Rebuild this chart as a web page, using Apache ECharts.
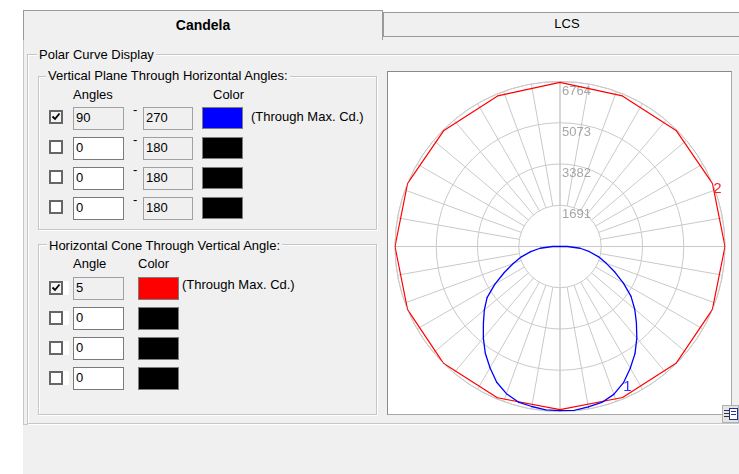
<!DOCTYPE html>
<html>
<head>
<meta charset="utf-8">
<script src="https://cdn.jsdelivr.net/npm/echarts@6/dist/echarts.min.js"></script>
<style>
  html, body { margin:0; padding:0; }
  body { width:739px; height:474px; position:relative; overflow:hidden; background:#ffffff;
         font-family:'Liberation Sans', Arial, sans-serif; font-size:13px; color:#000; }
  .abs { position:absolute; box-sizing:border-box; }
  .grp { border:1px solid #c6c6c6; box-shadow: 1px 1px 0 #ffffff inset, 1px 1px 0 #ffffff; }
  .gl { position:absolute; background:#f0f0f0; padding:0 2px; line-height:14px; white-space:nowrap; }
  .txt { position:absolute; line-height:14px; white-space:nowrap; }
  .cb { position:absolute; width:14px; height:14px; box-sizing:border-box; border:2px solid #666; background:#fff; }
  .cb.on { background:#f4f4f4; }
  .cb svg { position:absolute; left:0; top:0; }
  .tb { position:absolute; box-sizing:border-box; height:23px; border:1px solid #7a7a7a; background:#fff; padding-left:2px; line-height:20px; }
  .tb.dis { background:#f0f0f0; border-color:#a0a0a0; }
  .sw { position:absolute; box-sizing:border-box; height:22px; border:1px solid #7d7d7d; }
</style>
</head>
<body>
<!-- panel background -->
<div class="abs" style="left:23px;top:10px;width:716px;height:464px;background:#f0f0f0;"></div>
<div class="abs" style="left:383px;top:10px;width:356px;height:2px;background:#ffffff;"></div>
<!-- tabs -->
<div class="abs" style="left:23px;top:10px;width:360px;height:30px;border-top:1px solid #9a9a9a;border-left:1px solid #9a9a9a;border-right:1px solid #9a9a9a;"></div>
<div class="txt" style="left:23px;top:18px;width:360px;text-align:center;font-weight:bold;font-size:14px;">Candela</div>
<div class="abs" style="left:383px;top:12px;width:360px;height:25px;border:1px solid #9a9a9a;border-right:none;"></div>
<div class="txt" style="left:383px;top:17px;width:368px;text-align:center;font-size:13px;">LCS</div>
<div class="abs" style="left:23px;top:40px;width:1px;height:385px;background:#c8c8c8;"></div>
<div class="abs" style="left:23px;top:424px;width:716px;height:1px;background:#c8c8c8;"></div>

<!-- Polar Curve Display group -->
<div class="abs grp" style="left:27px;top:54px;width:720px;height:370px;"></div>
<div class="gl" style="left:37px;top:48px;">Polar Curve Display</div>

<!-- Vertical plane group -->
<div class="abs grp" style="left:38px;top:76px;width:339px;height:154px;"></div>
<div class="gl" style="left:46px;top:69px;">Vertical Plane Through Horizontal Angles:</div>
<div class="txt" style="left:73px;top:88px;">Angles</div>
<div class="txt" style="left:213px;top:88px;">Color</div>

<div id="vrows"></div>

<!-- Horizontal cone group -->
<div class="abs grp" style="left:38px;top:244px;width:339px;height:171px;"></div>
<div class="gl" style="left:47px;top:239px;">Horizontal Cone Through Vertical Angle:</div>
<div class="txt" style="left:73px;top:257px;">Angle</div>
<div class="txt" style="left:138px;top:257px;">Color</div>

<div id="hrows"></div>

<!-- chart box -->
<div class="abs" style="left:387px;top:71px;width:345px;height:344px;background:#ffffff;border-top:1px solid #8a8a8a;border-left:1px solid #8a8a8a;border-right:1px solid #a8a8a8;border-bottom:1px solid #a8a8a8;">
  <div id="chart" style="position:absolute;left:0;top:0;width:343px;height:342px;"></div>
</div>

<!-- small print icon -->
<div class="abs" style="left:722px;top:405px;width:17px;height:18px;background:#e4e4e4;border:1px solid #b0b0b0;">
  <div class="abs" style="left:6px;top:2px;width:9px;height:12px;border:1px solid #1c2f9a;background:#ffffff;"></div>
  <div class="abs" style="left:1px;top:4px;width:6px;height:1px;background:#333;"></div>
  <div class="abs" style="left:1px;top:7px;width:6px;height:1px;background:#333;"></div>
  <div class="abs" style="left:1px;top:10px;width:6px;height:1px;background:#333;"></div>
  <div class="abs" style="left:8px;top:5px;width:5px;height:1px;background:#1c2f9a;"></div>
  <div class="abs" style="left:8px;top:8px;width:5px;height:1px;background:#1c2f9a;"></div>
</div>

<script>
// ---------- form data ----------
const vPlaneFrom   = ['90', '0', '0', '0'];
const vPlaneTo     = ['270', '180', '180', '180'];
const vPlaneOn     = [true, false, false, false];
const vPlaneColors = ['#0000ff', '#000000', '#000000', '#000000'];
const hConeAngle   = ['5', '0', '0', '0'];
const hConeOn      = [true, false, false, false];
const hConeColors  = ['#ff0000', '#000000', '#000000', '#000000'];

// ---------- chart data ----------
const ringValues = [1691, 3382, 5073, 6764];          // radius tick labels
const blueAngles = [0, 5, 10, 15, 20, 25, 30, 35, 40, 45, 50, 55, 60, 65, 70, 75, 80, 85, 90]; // vertical angles
const blue90  = [6730, 6740, 6680, 6620, 6450, 6160, 5760, 5360, 4900, 4430, 4000, 3550, 3000, 2480, 2020, 1640, 1230, 830, 300];  // plane 90
const blue270 = [6730, 6720, 6660, 6600, 6420, 6140, 5740, 5340, 4890, 4440, 4050, 3650, 3080, 2520, 2040, 1640, 1220, 820, 300];  // plane 270
const redAngles = [0, 22.5, 45, 67.5, 90, 112.5, 135, 157.5, 180, 202.5, 225, 247.5, 270, 292.5, 315, 337.5]; // horizontal angles
const redValues = [6690, 6700, 6750, 6760, 6764, 6764, 6730, 6680, 6730, 6680, 6730, 6764, 6764, 6764, 6764, 6710];

// ---------- build form ----------
function check(on) {
  return '<div class="cb' + (on ? ' on' : '') + '">' + (on ?
    '<svg width="10" height="10" viewBox="0 0 10 10"><polyline points="1.5,4.5 4,7 8.5,1.5" fill="none" stroke="#000" stroke-width="1.8"/></svg>' : '') + '</div>';
}
let vh = '';
for (let i = 0; i < 4; i++) {
  const y = 107 + i * 30;
  vh += check(vPlaneOn[i]).replace('class="cb', 'style="left:49px;top:' + (y + 3) + 'px;" class="cb');
  vh += '<div class="tb' + (vPlaneOn[i] ? ' dis' : '') + '" style="left:73px;top:' + y + 'px;width:51px;">' + vPlaneFrom[i] + '</div>';
  vh += '<div class="txt" style="left:133px;top:' + (y - 4) + 'px;">-</div>';
  vh += '<div class="tb dis" style="left:143px;top:' + y + 'px;width:50px;">' + vPlaneTo[i] + '</div>';
  vh += '<div class="sw" style="left:202px;top:' + y + 'px;width:41px;background:' + vPlaneColors[i] + ';"></div>';
  if (i === 0) vh += '<div class="txt" style="left:251px;top:' + (y + 3) + 'px;">(Through Max. Cd.)</div>';
}
document.getElementById('vrows').outerHTML = vh;
let hh = '';
for (let i = 0; i < 4; i++) {
  const y = 277 + i * 30;
  hh += check(hConeOn[i]).replace('class="cb', 'style="left:49px;top:' + (y + 4) + 'px;" class="cb');
  hh += '<div class="abs" style="left:63px;top:' + (y + 4) + 'px;width:6px;height:14px;background:#fff;"></div>';
  hh += '<div class="tb' + (hConeOn[i] ? ' dis' : '') + '" style="left:73px;top:' + y + 'px;width:51px;">' + hConeAngle[i] + '</div>';
  hh += '<div class="sw" style="left:138px;top:' + y + 'px;width:41px;height:23px;background:' + hConeColors[i] + ';"></div>';
  if (i === 0) hh += '<div class="txt" style="left:182px;top:' + (y + 1) + 'px;">(Through Max. Cd.)</div>';
}
document.getElementById('hrows').outerHTML = hh;

// ---------- chart ----------
const chart = echarts.init(document.getElementById('chart'), null, { renderer: 'canvas' });
const CENTER = [172, 174.5];
const R = 165;
const gridColor = '#c9c9c9';

// screen angle: clockwise from top (startAngle 90, clockwise)
const bluePath = [];
blueAngles.forEach((a, i) => bluePath.push([blue270[i], 180 + a]));
for (let i = blueAngles.length - 1; i >= 0; i--) {
  const item = { value: [blue90[i], 180 - blueAngles[i]] };
  if (blueAngles[i] === 25) {
    item.label = { show: true, formatter: '1', position: 'inside', offset: [4, 4],
                   color: '#3030ff', fontSize: 15, fontFamily: 'Liberation Sans' };
  }
  bluePath.push(item);
}
const redPath = redAngles.map((h, i) => {
  const item = { value: [redValues[i], (540 - h) % 360] };
  if (h === 112.5) {
    item.label = { show: true, formatter: '2', position: 'inside', offset: [5, 6],
                   color: '#ff2020', fontSize: 15, fontFamily: 'Liberation Sans' };
  }
  return item;
});
redPath.push({ value: [redValues[0], (540 - redAngles[0]) % 360] });

const option = {
  animation: false,
  polar: [
    { center: CENTER, radius: [0, R] },
    { center: CENTER, radius: [R * ringValues[0] / ringValues[3], R] }
  ],
  angleAxis: [
    { polarIndex: 0, type: 'value', min: 0, max: 360, interval: 90, startAngle: 90, clockwise: true,
      axisLine: { show: true, lineStyle: { color: gridColor, width: 1 } },
      axisTick: { show: false }, axisLabel: { show: false },
      splitLine: { show: true, lineStyle: { color: gridColor, width: 1 } } },
    { polarIndex: 1, type: 'value', min: 0, max: 360, interval: 10, startAngle: 90, clockwise: true,
      axisLine: { show: false }, axisTick: { show: false }, axisLabel: { show: false },
      splitLine: { show: true, lineStyle: { color: gridColor, width: 1 } } }
  ],
  radiusAxis: [
    { polarIndex: 0, type: 'value', min: 0, max: ringValues[3], interval: ringValues[0],
      axisLine: { show: false }, axisTick: { show: false },
      axisLabel: { show: true, showMinLabel: false, color: '#a6a6a6', fontSize: 13,
                   fontFamily: 'Liberation Sans', margin: -2, align: 'left', verticalAlign: 'top',
                   padding: [3, 0, 0, 0],
                   formatter: v => String(v) },
      splitLine: { show: true, lineStyle: { color: gridColor, width: 1 } },
      z: 1 },
    { polarIndex: 1, type: 'value', min: 0, max: ringValues[3], show: false }
  ],
  series: [
    { type: 'line', coordinateSystem: 'polar', polarIndex: 0, data: redPath,
      symbol: 'circle', symbolSize: 1, showSymbol: true, smooth: false, clip: false,
      lineStyle: { color: '#ff0000', width: 1.2 }, itemStyle: { color: '#ff0000' }, z: 3 },
    { type: 'line', coordinateSystem: 'polar', polarIndex: 0, data: bluePath,
      symbol: 'circle', symbolSize: 1, showSymbol: true, smooth: false, clip: false,
      lineStyle: { color: '#0000ff', width: 1.3 }, itemStyle: { color: '#0000ff' }, z: 4 }
  ]
};
chart.setOption(option);
</script>
</body>
</html>
